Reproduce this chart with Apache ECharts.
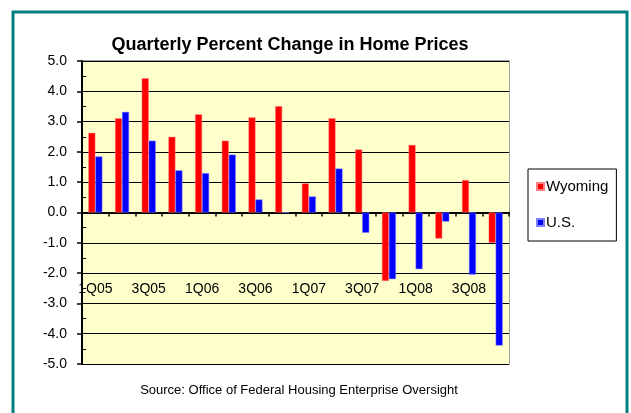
<!DOCTYPE html>
<html>
<head>
<meta charset="utf-8">
<script src="https://cdn.jsdelivr.net/npm/echarts@6/dist/echarts.min.js"></script>
<style>
html,body{margin:0;padding:0;background:#fff;}
#chart{width:631px;height:413px;}
</style>
</head>
<body>
<div id="chart"></div>
<script>
const categories = ['1Q05','2Q05','3Q05','4Q05','1Q06','2Q06','3Q06','4Q06','1Q07','2Q07','3Q07','4Q07','1Q08','2Q08','3Q08','4Q08'];
const wyoming = [2.63, 3.11, 4.43, 2.50, 3.24, 2.37, 3.14, 3.51, 0.96, 3.11, 2.08, -2.26, 2.23, -0.86, 1.07, -1.00];
const us = [1.85, 3.32, 2.37, 1.39, 1.30, 1.91, 0.43, 0.00, 0.53, 1.45, -0.67, -2.20, -1.87, -0.30, -2.05, -4.39];
const yTicks = [-5, -4, -3, -2, -1, 0, 1, 2, 3, 4, 5];

const chart = echarts.init(document.getElementById('chart'), null, {renderer: 'canvas'});
const font = 'Liberation Sans, Arial, sans-serif';
chart.setOption({
  animation: false,
  backgroundColor: '#ffffff',
  textStyle: {fontFamily: font},
  title: [
    {text: 'Quarterly Percent Change in Home Prices', left: 285, top: 31, textAlign: 'center',
     textStyle: {fontSize: 18, fontWeight: 'bold', color: '#000', fontFamily: font}},
    {text: 'Source: Office of Federal Housing Enterprise Oversight', left: 294, top: 379, textAlign: 'center',
     textStyle: {fontSize: 13, fontWeight: 'normal', color: '#000', fontFamily: font}}
  ],
  legend: {
    orient: 'vertical', left: 528, top: 169, width: 90, height: 73,
    padding: [10, 8, 11, 8], itemGap: 21,
    backgroundColor: '#fff', borderColor: '#000', borderWidth: 1,
    itemWidth: 7, itemHeight: 7, icon: 'rect',
    textStyle: {fontSize: 15, color: '#000', fontFamily: font, padding: [0, 0, 0, -3]},
    data: ['Wyoming', 'U.S.']
  },
  graphic: [
    {type: 'rect', shape: {x: 13, y: 12, width: 614, height: 420}, style: {fill: 'none', stroke: '#008080', lineWidth: 3}, z: 100},
    {type: 'rect', shape: {x: 82, y: 61, width: 427, height: 303}, style: {fill: 'none', stroke: '#808080', lineWidth: 1.5}, z: -1}
  ],
  grid: {left: 82, top: 61, width: 427, height: 303, show: true, backgroundColor: '#ffffcc', borderWidth: 0,
         containLabel: false, outerBoundsMode: 'none'},
  xAxis: [
    {
      type: 'category', data: categories, position: 'bottom',
      axisLine: {show: false, onZero: false},
      axisTick: {show: false},
      axisLabel: {interval: 1, margin: -82, fontSize: 14, color: '#000', fontFamily: font},
      splitLine: {show: false}
    },
    {
      type: 'category', data: categories, position: 'bottom',
      axisLine: {onZero: true, lineStyle: {color: '#000', width: 2}},
      axisTick: {show: true, interval: 0, length: 4, lineStyle: {color: '#000', width: 1.5}},
      axisLabel: {show: false},
      splitLine: {show: false}
    }
  ],
  yAxis: [
    {
      type: 'value', min: -5, max: 5, interval: 1,
      axisLine: {show: true, lineStyle: {color: '#000', width: 2}},
      axisTick: {show: true, length: 5, lineStyle: {color: '#000', width: 1.5}},
      axisLabel: {margin: 15, fontSize: 14, color: '#000', fontFamily: font,
        formatter: v => yTicks.includes(v) ? v.toFixed(1) : ''},
      splitLine: {show: true, lineStyle: {color: '#000', width: 1}}
    },
    {
      type: 'value', min: -5, max: 5, interval: 0.5, position: 'left',
      axisLine: {show: false},
      axisTick: {show: true, inside: true, length: 4, lineStyle: {color: '#000', width: 1}},
      axisLabel: {show: false}, splitLine: {show: false}
    }
  ],
  series: [
    {name: 'Wyoming', type: 'bar', data: wyoming, barWidth: 7, barGap: '0%',
     itemStyle: {color: '#ff0000', borderColor: '#ff8080', borderWidth: 0.5}},
    {name: 'U.S.', type: 'bar', data: us, barWidth: 7, barGap: '0%',
     itemStyle: {color: '#0000ff', borderColor: '#8080ff', borderWidth: 0.5}}
  ]
});
</script>
</body>
</html>
